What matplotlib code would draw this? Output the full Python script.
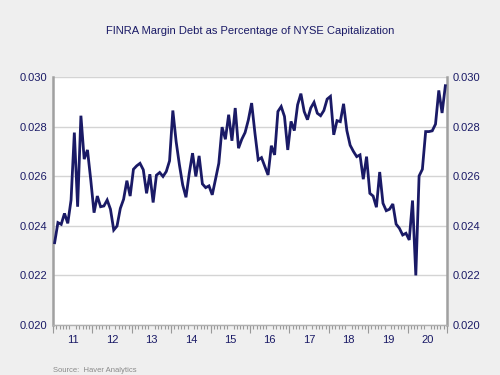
import numpy as np
import matplotlib
matplotlib.use('Agg')
import matplotlib.pyplot as plt

# monthly values, Jan 2011 - Dec 2020
start_year = 2011
ratio_2011 = [0.02332, 0.02413, 0.02406, 0.02450, 0.02410, 0.02504, 0.02776, 0.02477, 0.02844, 0.02669, 0.02706, 0.02585]
ratio_2012 = [0.02453, 0.02520, 0.02477, 0.02480, 0.02504, 0.02467, 0.02383, 0.02399, 0.02470, 0.02507, 0.02582, 0.02520]
ratio_2013 = [0.02628, 0.02642, 0.02652, 0.02626, 0.02531, 0.02608, 0.02494, 0.02604, 0.02615, 0.02599, 0.02619, 0.02662]
ratio_2014 = [0.02865, 0.02740, 0.02646, 0.02565, 0.02515, 0.02612, 0.02693, 0.02599, 0.02682, 0.02569, 0.02554, 0.02561]
ratio_2015 = [0.02525, 0.02588, 0.02652, 0.02798, 0.02749, 0.02848, 0.02743, 0.02875, 0.02713, 0.02749, 0.02776, 0.02827]
ratio_2016 = [0.02895, 0.02774, 0.02666, 0.02675, 0.02640, 0.02605, 0.02723, 0.02686, 0.02861, 0.02881, 0.02841, 0.02706]
ratio_2017 = [0.02821, 0.02784, 0.02888, 0.02933, 0.02861, 0.02828, 0.02875, 0.02898, 0.02854, 0.02844, 0.02865, 0.02911]
ratio_2018 = [0.02922, 0.02767, 0.02824, 0.02820, 0.02892, 0.02784, 0.02725, 0.02700, 0.02679, 0.02686, 0.02588, 0.02679]
ratio_2019 = [0.02531, 0.02520, 0.02475, 0.02617, 0.02491, 0.02461, 0.02467, 0.02488, 0.02407, 0.02390, 0.02363, 0.02370]
ratio_2020 = [0.02343, 0.02502, 0.02200, 0.02601, 0.02628, 0.02780, 0.02780, 0.02783, 0.02810, 0.02946, 0.02855, 0.02965]

ratio = (ratio_2011 + ratio_2012 + ratio_2013 + ratio_2014 + ratio_2015 +
         ratio_2016 + ratio_2017 + ratio_2018 + ratio_2019 + ratio_2020)
years = list(range(2011, 2021))
year_labels = ['11', '12', '13', '14', '15', '16', '17', '18', '19', '20']
y_ticks = [0.020, 0.022, 0.024, 0.026, 0.028, 0.030]

navy = '#1a1a66'
bg = '#efefef'
plt.rcParams['font.family'] = ['Liberation Sans', 'DejaVu Sans']

t = start_year + (np.arange(len(ratio)) + 0.5) / 12

fig = plt.figure(figsize=(5, 3.75), dpi=100, facecolor=bg)
ax = fig.add_axes([0.106, 0.1333, 0.788, 0.6613])
ax.set_facecolor('white')

ax.plot(t, ratio, color=navy, lw=2.0, solid_joinstyle='miter', zorder=3)

ax.set_xlim(2011, 2021)
ax.set_ylim(0.020, 0.030)
ax.set_yticks(y_ticks)
ax.set_yticklabels([f'{v:.3f}' for v in y_ticks])
ax.grid(axis='y', color='#d4d4d4', lw=1)
ax.tick_params(axis='y', length=0, labelsize=8, labelcolor=navy, pad=4,
               left=True, right=True, labelleft=True, labelright=True)

# year labels centred on each year, month ticks below
ax.set_xticks([y + 0.5 for y in years])
ax.set_xticklabels(year_labels)
ax.tick_params(axis='x', which='major', length=0, labelsize=8, labelcolor=navy, pad=7)
ax.set_xticks(start_year + np.arange(121) / 12, minor=True)
ax.tick_params(axis='x', which='minor', length=3, width=0.8, color='#999999', direction='out')
sec = ax.secondary_xaxis('bottom')
sec.set_xticks(years + [2021])
sec.set_xticklabels([])
sec.tick_params(length=6, width=0.8, color='#999999', direction='out')
sec.spines['bottom'].set_visible(False)

for s in ['left', 'right']:
    ax.spines[s].set_color('#a0a0a0')
    ax.spines[s].set_linewidth(1.8)
ax.spines['bottom'].set_color('#b0b0b0')
ax.spines['bottom'].set_linewidth(1)
ax.spines['top'].set_visible(False)

fig.text(0.5, 0.918, 'FINRA Margin Debt as Percentage of NYSE Capitalization',
         ha='center', va='center', fontsize=8, color=navy)
fig.text(0.106, 0.004, 'Source:  Haver Analytics', ha='left', va='bottom',
         fontsize=5.5, color='#8a8a8a')

fig.savefig('out.png', dpi=100, facecolor=bg)
